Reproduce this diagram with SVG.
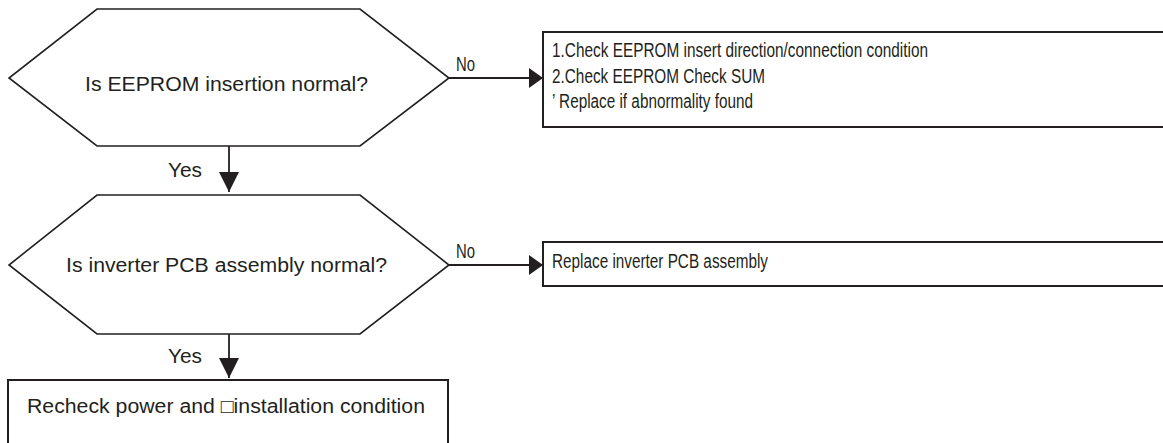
<svg xmlns="http://www.w3.org/2000/svg" width="1163" height="443" viewBox="0 0 1163 443">
<style>
  .shape { fill: #ffffff; stroke: #231f20; stroke-width: 1.6; }
  .box { fill: #ffffff; stroke: #231f20; stroke-width: 2; }
  .conn { fill: none; stroke: #231f20; stroke-width: 1.8; }
  .t { font-family: "Liberation Sans", Arial, sans-serif; fill: #231f20; }
  .q { font-size: 19.5px; }
  .n { font-size: 19.5px; }
</style>
<defs>
  <marker id="arrV" markerUnits="userSpaceOnUse" viewBox="0 0 20 20" refX="20" refY="10" markerWidth="20" markerHeight="20" orient="auto">
    <path d="M0,0 L20,10 L0,20 Z" fill="#231f20"/>
  </marker>
  <marker id="arrH" markerUnits="userSpaceOnUse" viewBox="0 0 14 20" refX="14" refY="10" markerWidth="14" markerHeight="20" orient="auto">
    <path d="M0,0 L14,10 L0,20 Z" fill="#231f20"/>
  </marker>
</defs>

<g id="connectors">
  <path class="conn" d="M229,146 L229,192" marker-end="url(#arrV)"/>
  <path class="conn" d="M229,334 L229,378" marker-end="url(#arrV)"/>
  <path class="conn" d="M449,78 L543,78" marker-end="url(#arrH)"/>
  <path class="conn" d="M449,265 L543,265" marker-end="url(#arrH)"/>
  <text class="t q" x="168" y="177" textLength="34" lengthAdjust="spacingAndGlyphs">Yes</text>
  <text class="t q" x="168" y="363" textLength="34" lengthAdjust="spacingAndGlyphs">Yes</text>
  <text class="t n" x="456" y="71" textLength="19" lengthAdjust="spacingAndGlyphs">No</text>
  <text class="t n" x="456" y="258" textLength="19" lengthAdjust="spacingAndGlyphs">No</text>
</g>

<g id="decision1">
  <polygon class="shape" points="97,9 360,9 449,78 360,146 97,146 9,78"/>
  <text class="t q" x="85" y="91" textLength="283" lengthAdjust="spacingAndGlyphs">Is EEPROM insertion normal?</text>
</g>

<g id="action1">
  <rect class="box" x="543" y="32" width="640" height="95"/>
  <text class="t n" x="552" y="57" textLength="376" lengthAdjust="spacingAndGlyphs">1.Check EEPROM insert direction/connection condition</text>
  <text class="t n" x="552" y="83" textLength="213" lengthAdjust="spacingAndGlyphs">2.Check EEPROM Check SUM</text>
  <text class="t n" x="552" y="108" textLength="201" lengthAdjust="spacingAndGlyphs">’ Replace if abnormality found</text>
</g>

<g id="decision2">
  <polygon class="shape" points="97,195 360,195 449,265 360,334 97,334 9,265"/>
  <text class="t q" x="66" y="272" textLength="321" lengthAdjust="spacingAndGlyphs">Is inverter PCB assembly normal?</text>
</g>

<g id="action2">
  <rect class="box" x="543" y="242" width="640" height="44"/>
  <text class="t n" x="552" y="268" textLength="216" lengthAdjust="spacingAndGlyphs">Replace inverter PCB assembly</text>
</g>

<g id="action3">
  <rect class="box" x="8" y="380" width="440" height="90"/>
  <text class="t q" x="27" y="413" textLength="398" lengthAdjust="spacingAndGlyphs">Recheck power and □installation condition</text>
</g>
</svg>
